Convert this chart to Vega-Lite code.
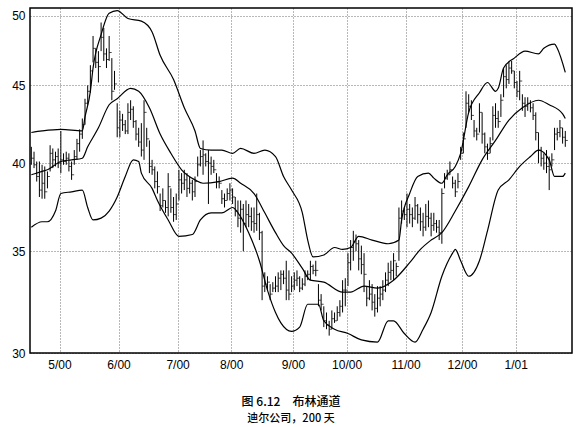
{
  "$schema": "https://vega.github.io/schema/vega-lite/v6.json",
  "description": "Bollinger bands, Deere & Co, 200 days",
  "autosize": "none",
  "width": 542,
  "height": 345,
  "padding": {"left": 30, "top": 8, "right": 14, "bottom": 74},
  "background": "white",
  "config": {
    "view": {"stroke": "black", "strokeWidth": 1.5},
    "axis": {
      "labelFont": "Liberation Sans",
      "labelFontSize": 12,
      "labelColor": "black",
      "ticks": false,
      "domain": false,
      "grid": true,
      "gridColor": "black",
      "gridDash": [1, 2],
      "gridOpacity": 0.7,
      "gridWidth": 0.8,
      "title": null
    }
  },
  "title": {
    "text": "图 6.12　布林通道",
    "subtitle": "迪尔公司，200 天",
    "orient": "bottom",
    "anchor": "middle",
    "dx": -10,
    "offset": 27,
    "font": "Noto Sans CJK SC",
    "fontSize": 12,
    "fontWeight": 500,
    "color": "black",
    "subtitleFont": "Noto Sans CJK SC",
    "subtitleFontSize": 11,
    "subtitleFontWeight": 500,
    "subtitleColor": "black",
    "subtitlePadding": 4
  },
  "datasets": {
    "bars": [
      {"d":0,"h":41.0,"l":39.9,"c":40.3},{"d":1,"h":40.7,"l":39.7,"c":39.9},{"d":2,"h":40.1,"l":38.9,"c":39.2},{"d":3,"h":40.1,"l":38.0,"c":38.4},
      {"d":4,"h":39.9,"l":37.9,"c":38.8},{"d":5,"h":39.8,"l":37.9,"c":38.3},{"d":6,"h":39.5,"l":38.5,"c":39.2},{"d":7,"h":41.1,"l":39.5,"c":40.6},
      {"d":8,"h":40.9,"l":39.7,"c":40.2},{"d":9,"h":40.7,"l":39.8,"c":40.4},{"d":10,"h":40.9,"l":39.7,"c":40.0},{"d":11,"h":42.0,"l":39.4,"c":40.2},
      {"d":12,"h":40.6,"l":39.9,"c":40.1},{"d":13,"h":40.7,"l":39.9,"c":40.3},{"d":14,"h":40.6,"l":39.5,"c":39.8},{"d":15,"h":40.1,"l":39.0,"c":39.3},
      {"d":16,"h":40.8,"l":39.9,"c":40.4},{"d":17,"h":41.5,"l":40.2,"c":41.2},{"d":18,"h":42.1,"l":40.7,"c":41.8},{"d":19,"h":42.8,"l":41.5,"c":42.4},
      {"d":20,"h":44.1,"l":42.4,"c":43.8},{"d":21,"h":45.0,"l":43.7,"c":44.6},{"d":22,"h":46.4,"l":44.5,"c":46.0},{"d":23,"h":48.5,"l":46.6,"c":47.6},
      {"d":24,"h":47.6,"l":46.2,"c":46.6},{"d":25,"h":47.4,"l":45.2,"c":46.3},{"d":26,"h":49.5,"l":47.4,"c":48.4},{"d":27,"h":49.1,"l":46.7,"c":47.2},
      {"d":28,"h":47.6,"l":46.2,"c":46.8},{"d":29,"h":48.5,"l":46.7,"c":47.3},{"d":30,"h":46.9,"l":44.0,"c":44.6},{"d":31,"h":46.0,"l":44.7,"c":45.1},
      {"d":32,"h":43.8,"l":41.6,"c":42.2},{"d":33,"h":43.3,"l":41.6,"c":42.7},{"d":34,"h":43.1,"l":42.0,"c":42.4},{"d":35,"h":42.7,"l":41.8,"c":42.0},
      {"d":36,"h":43.8,"l":41.8,"c":43.2},{"d":37,"h":44.0,"l":42.7,"c":43.4},{"d":38,"h":43.6,"l":42.2,"c":42.6},{"d":39,"h":42.7,"l":41.4,"c":41.8},
      {"d":40,"h":42.2,"l":41.0,"c":41.3},{"d":41,"h":42.5,"l":40.4,"c":40.8},{"d":42,"h":44.0,"l":40.2,"c":43.2},{"d":43,"h":42.2,"l":41.0,"c":41.5},
      {"d":44,"h":41.4,"l":39.4,"c":39.8},{"d":45,"h":40.2,"l":39.3,"c":39.6},{"d":46,"h":39.8,"l":38.5,"c":38.9},{"d":47,"h":39.5,"l":38.2,"c":38.6},
      {"d":48,"h":38.2,"l":37.2,"c":37.5},{"d":49,"h":38.5,"l":37.4,"c":37.8},{"d":50,"h":37.8,"l":37.1,"c":37.4},{"d":51,"h":39.4,"l":36.9,"c":38.6},
      {"d":52,"h":38.5,"l":37.1,"c":37.4},{"d":53,"h":38.0,"l":36.6,"c":37.0},{"d":54,"h":38.2,"l":36.7,"c":37.6},{"d":55,"h":39.6,"l":37.8,"c":39.0},
      {"d":56,"h":39.4,"l":38.2,"c":38.8},{"d":57,"h":39.6,"l":38.4,"c":39.0},{"d":58,"h":39.4,"l":38.0,"c":38.5},{"d":59,"h":39.2,"l":38.2,"c":38.8},
      {"d":60,"h":39.0,"l":37.8,"c":38.3},{"d":61,"h":39.2,"l":38.0,"c":38.9},{"d":62,"h":40.4,"l":39.2,"c":39.9},{"d":63,"h":40.8,"l":39.8,"c":40.4},
      {"d":64,"h":41.4,"l":39.3,"c":40.5},{"d":65,"h":40.6,"l":39.8,"c":40.1},{"d":66,"h":40.8,"l":37.6,"c":40.0},{"d":67,"h":40.4,"l":39.3,"c":39.8},
      {"d":68,"h":40.2,"l":39.4,"c":39.6},{"d":69,"h":39.4,"l":38.5,"c":38.9},{"d":70,"h":39.2,"l":38.5,"c":38.8},{"d":71,"h":38.4,"l":37.6,"c":37.9},
      {"d":72,"h":38.2,"l":37.4,"c":37.8},{"d":73,"h":38.5,"l":37.8,"c":38.2},{"d":74,"h":38.8,"l":37.8,"c":38.4},{"d":75,"h":38.5,"l":37.6,"c":38.0},
      {"d":76,"h":38.0,"l":36.9,"c":37.2},{"d":77,"h":37.8,"l":36.3,"c":36.8},{"d":78,"h":37.8,"l":36.0,"c":37.3},{"d":79,"h":37.6,"l":35.0,"c":36.5},
      {"d":80,"h":37.8,"l":36.3,"c":37.0},{"d":81,"h":37.6,"l":36.3,"c":36.9},{"d":82,"h":37.4,"l":36.1,"c":36.6},{"d":83,"h":37.4,"l":36.0,"c":36.5},
      {"d":84,"h":38.2,"l":36.1,"c":37.0},{"d":85,"h":37.1,"l":35.6,"c":36.0},{"d":86,"h":36.1,"l":32.5,"c":33.2},{"d":87,"h":33.9,"l":32.9,"c":33.3},
      {"d":88,"h":33.7,"l":33.0,"c":33.4},{"d":89,"h":33.3,"l":32.5,"c":32.8},{"d":90,"h":33.4,"l":32.9,"c":33.1},{"d":91,"h":33.7,"l":32.9,"c":33.2},
      {"d":92,"h":33.9,"l":32.9,"c":33.6},{"d":93,"h":34.0,"l":33.0,"c":33.8},{"d":94,"h":34.0,"l":33.3,"c":33.6},{"d":95,"h":34.5,"l":32.5,"c":33.0},
      {"d":96,"h":34.0,"l":32.5,"c":32.8},{"d":97,"h":33.7,"l":32.9,"c":33.2},{"d":98,"h":33.9,"l":33.0,"c":33.5},{"d":99,"h":34.0,"l":33.2,"c":33.6},
      {"d":100,"h":33.7,"l":32.9,"c":33.1},{"d":101,"h":33.6,"l":33.0,"c":33.3},{"d":102,"h":34.0,"l":33.2,"c":33.7},{"d":103,"h":34.0,"l":33.5,"c":33.8},
      {"d":104,"h":34.5,"l":33.5,"c":34.2},{"d":105,"h":34.3,"l":33.8,"c":34.0},{"d":106,"h":34.5,"l":33.7,"c":34.0},{"d":107,"h":33.3,"l":32.2,"c":32.5},
      {"d":108,"h":32.8,"l":32.0,"c":32.3},{"d":109,"h":32.2,"l":31.2,"c":31.5},{"d":110,"h":31.9,"l":31.1,"c":31.3},{"d":111,"h":31.5,"l":30.8,"c":31.1},
      {"d":112,"h":32.0,"l":31.1,"c":31.6},{"d":113,"h":31.9,"l":31.4,"c":31.5},{"d":114,"h":32.2,"l":31.5,"c":31.9},{"d":115,"h":32.5,"l":31.7,"c":32.2},
      {"d":116,"h":33.5,"l":31.9,"c":33.0},{"d":117,"h":33.6,"l":32.2,"c":33.0},{"d":118,"h":34.9,"l":33.2,"c":34.4},{"d":119,"h":35.6,"l":34.0,"c":35.2},
      {"d":120,"h":36.1,"l":34.5,"c":35.5},{"d":121,"h":35.9,"l":35.0,"c":35.4},{"d":122,"h":35.6,"l":34.0,"c":34.6},{"d":123,"h":35.3,"l":33.8,"c":34.3},
      {"d":124,"h":34.9,"l":32.9,"c":33.8},{"d":125,"h":33.2,"l":32.2,"c":32.6},{"d":126,"h":33.5,"l":32.5,"c":32.8},{"d":127,"h":33.3,"l":32.0,"c":32.4},
      {"d":128,"h":32.8,"l":31.7,"c":32.1},{"d":129,"h":33.2,"l":31.9,"c":32.6},{"d":130,"h":33.2,"l":32.2,"c":32.8},{"d":131,"h":33.5,"l":32.5,"c":33.0},
      {"d":132,"h":33.9,"l":32.9,"c":33.5},{"d":133,"h":34.4,"l":33.2,"c":33.9},{"d":134,"h":34.5,"l":33.5,"c":34.0},{"d":135,"h":34.9,"l":33.5,"c":34.5},
      {"d":136,"h":34.4,"l":33.7,"c":34.2},{"d":137,"h":37.4,"l":34.5,"c":36.8},{"d":138,"h":37.8,"l":36.5,"c":37.2},{"d":139,"h":37.4,"l":36.7,"c":37.0},
      {"d":140,"h":38.2,"l":36.3,"c":37.3},{"d":141,"h":37.6,"l":36.5,"c":37.0},{"d":142,"h":37.4,"l":36.3,"c":36.8},{"d":143,"h":38.0,"l":36.7,"c":37.5},
      {"d":144,"h":37.6,"l":36.5,"c":37.0},{"d":145,"h":37.4,"l":36.1,"c":36.6},{"d":146,"h":37.1,"l":35.8,"c":36.3},{"d":147,"h":37.6,"l":36.1,"c":36.9},
      {"d":148,"h":37.8,"l":36.3,"c":36.8},{"d":149,"h":37.1,"l":35.8,"c":36.4},{"d":150,"h":37.1,"l":36.1,"c":36.5},{"d":151,"h":36.7,"l":36.0,"c":36.3},
      {"d":152,"h":36.7,"l":35.6,"c":36.0},{"d":153,"h":38.5,"l":35.4,"c":38.2},{"d":154,"h":39.4,"l":38.5,"c":39.1},{"d":155,"h":39.6,"l":39.0,"c":39.3},
      {"d":156,"h":40.1,"l":39.3,"c":39.6},{"d":157,"h":39.2,"l":38.5,"c":38.8},{"d":158,"h":39.0,"l":38.0,"c":38.3},{"d":159,"h":39.4,"l":38.5,"c":38.9},
      {"d":160,"h":41.0,"l":40.2,"c":40.6},{"d":161,"h":41.9,"l":40.6,"c":41.5},{"d":162,"h":44.6,"l":42.2,"c":43.8},{"d":163,"h":44.4,"l":43.2,"c":43.6},
      {"d":164,"h":44.0,"l":42.7,"c":43.0},{"d":165,"h":42.7,"l":41.6,"c":42.0},{"d":166,"h":42.2,"l":41.4,"c":41.8},{"d":167,"h":43.8,"l":41.9,"c":43.2},
      {"d":168,"h":43.2,"l":41.2,"c":41.8},{"d":169,"h":41.9,"l":40.6,"c":41.0},{"d":170,"h":41.2,"l":40.2,"c":40.6},{"d":171,"h":41.6,"l":40.6,"c":41.2},
      {"d":172,"h":43.6,"l":41.4,"c":43.0},{"d":173,"h":43.8,"l":42.2,"c":42.8},{"d":174,"h":43.3,"l":42.2,"c":42.6},{"d":175,"h":44.4,"l":42.9,"c":44.0},
      {"d":176,"h":46.2,"l":44.2,"c":45.6},{"d":177,"h":46.4,"l":44.8,"c":45.4},{"d":178,"h":46.7,"l":45.1,"c":46.2},{"d":179,"h":46.7,"l":45.8,"c":46.0},
      {"d":180,"h":46.0,"l":44.8,"c":45.2},{"d":181,"h":45.3,"l":44.2,"c":44.6},{"d":182,"h":46.0,"l":44.0,"c":45.3},{"d":183,"h":44.4,"l":43.3,"c":43.8},
      {"d":184,"h":44.2,"l":42.9,"c":43.6},{"d":185,"h":44.2,"l":43.3,"c":43.8},{"d":186,"h":44.0,"l":43.2,"c":43.5},{"d":187,"h":43.8,"l":42.7,"c":43.0},
      {"d":188,"h":43.2,"l":41.4,"c":41.9},{"d":189,"h":41.9,"l":40.0,"c":40.8},{"d":190,"h":41.0,"l":39.8,"c":40.3},{"d":191,"h":40.6,"l":39.6,"c":40.0},
      {"d":192,"h":40.8,"l":39.4,"c":39.8},{"d":193,"h":40.4,"l":38.4,"c":39.6},{"d":194,"h":40.6,"l":39.8,"c":40.2},{"d":195,"h":42.2,"l":40.8,"c":41.8},
      {"d":196,"h":42.2,"l":41.4,"c":41.9},{"d":197,"h":42.7,"l":41.6,"c":42.2},{"d":198,"h":42.2,"l":41.2,"c":41.6},{"d":199,"h":42.0,"l":41.0,"c":41.4}
    ],
    "bands": [
      {"b":"upper","d":0,"v":41.9},{"b":"upper","d":4,"v":42.0},{"b":"upper","d":11,"v":42.1},{"b":"upper","d":19,"v":42.0},{"b":"upper","d":20,"v":42.9},
      {"b":"upper","d":22,"v":44.6},{"b":"upper","d":23,"v":46.2},{"b":"upper","d":26,"v":48.6},{"b":"upper","d":29,"v":50.2},{"b":"upper","d":32,"v":50.4},
      {"b":"upper","d":36,"v":49.8},{"b":"upper","d":41,"v":49.6},{"b":"upper","d":45,"v":48.8},{"b":"upper","d":48,"v":47.1},{"b":"upper","d":53,"v":45.4},
      {"b":"upper","d":57,"v":43.5},{"b":"upper","d":61,"v":42.0},{"b":"upper","d":63,"v":40.9},{"b":"upper","d":67,"v":40.8},{"b":"upper","d":71,"v":40.8},
      {"b":"upper","d":75,"v":40.6},{"b":"upper","d":78,"v":40.9},{"b":"upper","d":83,"v":40.6},{"b":"upper","d":87,"v":40.8},{"b":"upper","d":91,"v":40.4},
      {"b":"upper","d":94,"v":39.2},{"b":"upper","d":97,"v":38.4},{"b":"upper","d":101,"v":37.1},{"b":"upper","d":103,"v":35.6},{"b":"upper","d":105,"v":34.7},
      {"b":"upper","d":109,"v":34.8},{"b":"upper","d":113,"v":35.2},{"b":"upper","d":116,"v":35.1},{"b":"upper","d":119,"v":35.2},{"b":"upper","d":122,"v":35.8},
      {"b":"upper","d":127,"v":35.6},{"b":"upper","d":133,"v":35.4},{"b":"upper","d":137,"v":35.6},{"b":"upper","d":138,"v":36.7},{"b":"upper","d":141,"v":38.2},
      {"b":"upper","d":144,"v":39.2},{"b":"upper","d":148,"v":39.4},{"b":"upper","d":150,"v":39.1},{"b":"upper","d":153,"v":38.8},{"b":"upper","d":155,"v":39.3},
      {"b":"upper","d":158,"v":39.8},{"b":"upper","d":160,"v":40.6},{"b":"upper","d":163,"v":43.2},{"b":"upper","d":167,"v":44.5},{"b":"upper","d":170,"v":45.2},
      {"b":"upper","d":173,"v":44.6},{"b":"upper","d":174,"v":44.8},{"b":"upper","d":176,"v":46.2},{"b":"upper","d":180,"v":46.9},{"b":"upper","d":184,"v":47.4},
      {"b":"upper","d":189,"v":47.2},{"b":"upper","d":191,"v":47.6},{"b":"upper","d":195,"v":47.9},{"b":"upper","d":196,"v":47.6},{"b":"upper","d":199,"v":45.9},
      {"b":"mid","d":0,"v":39.3},{"b":"mid","d":4,"v":39.5},{"b":"mid","d":6,"v":39.6},{"b":"mid","d":11,"v":40.1},{"b":"mid","d":15,"v":40.2},
      {"b":"mid","d":19,"v":40.3},{"b":"mid","d":21,"v":41.0},{"b":"mid","d":25,"v":42.2},{"b":"mid","d":29,"v":43.7},{"b":"mid","d":32,"v":44.1},
      {"b":"mid","d":37,"v":44.8},{"b":"mid","d":40,"v":44.6},{"b":"mid","d":44,"v":43.5},{"b":"mid","d":48,"v":41.8},{"b":"mid","d":52,"v":40.6},
      {"b":"mid","d":56,"v":39.6},{"b":"mid","d":61,"v":39.0},{"b":"mid","d":64,"v":38.8},{"b":"mid","d":70,"v":38.9},{"b":"mid","d":75,"v":39.1},
      {"b":"mid","d":78,"v":38.8},{"b":"mid","d":83,"v":38.2},{"b":"mid","d":87,"v":37.1},{"b":"mid","d":91,"v":36.0},{"b":"mid","d":94,"v":35.3},
      {"b":"mid","d":97,"v":34.9},{"b":"mid","d":101,"v":34.1},{"b":"mid","d":104,"v":33.5},{"b":"mid","d":109,"v":33.4},{"b":"mid","d":116,"v":32.9},
      {"b":"mid","d":119,"v":32.9},{"b":"mid","d":124,"v":33.2},{"b":"mid","d":129,"v":33.1},{"b":"mid","d":135,"v":33.5},{"b":"mid","d":141,"v":34.4},
      {"b":"mid","d":145,"v":35.1},{"b":"mid","d":149,"v":35.6},{"b":"mid","d":153,"v":36.0},{"b":"mid","d":158,"v":37.2},{"b":"mid","d":163,"v":38.6},
      {"b":"mid","d":168,"v":40.2},{"b":"mid","d":173,"v":41.4},{"b":"mid","d":178,"v":42.7},{"b":"mid","d":183,"v":43.5},{"b":"mid","d":189,"v":44.0},
      {"b":"mid","d":193,"v":43.7},{"b":"mid","d":198,"v":43.1},{"b":"mid","d":199,"v":42.8},
      {"b":"lower","d":0,"v":36.3},{"b":"lower","d":4,"v":36.6},{"b":"lower","d":6,"v":36.6},{"b":"lower","d":9,"v":37.2},{"b":"lower","d":11,"v":38.2},
      {"b":"lower","d":15,"v":38.3},{"b":"lower","d":19,"v":38.4},{"b":"lower","d":21,"v":37.4},{"b":"lower","d":23,"v":36.7},{"b":"lower","d":26,"v":36.8},
      {"b":"lower","d":29,"v":37.2},{"b":"lower","d":32,"v":38.0},{"b":"lower","d":35,"v":39.2},{"b":"lower","d":38,"v":40.2},{"b":"lower","d":40,"v":40.1},
      {"b":"lower","d":41,"v":39.4},{"b":"lower","d":45,"v":38.5},{"b":"lower","d":47,"v":37.8},{"b":"lower","d":51,"v":36.7},{"b":"lower","d":55,"v":35.8},
      {"b":"lower","d":60,"v":35.9},{"b":"lower","d":63,"v":36.7},{"b":"lower","d":67,"v":37.1},{"b":"lower","d":71,"v":37.1},{"b":"lower","d":75,"v":37.4},
      {"b":"lower","d":77,"v":37.1},{"b":"lower","d":81,"v":36.0},{"b":"lower","d":85,"v":34.5},{"b":"lower","d":88,"v":33.0},{"b":"lower","d":91,"v":31.9},
      {"b":"lower","d":93,"v":31.4},{"b":"lower","d":97,"v":31.0},{"b":"lower","d":100,"v":31.2},{"b":"lower","d":103,"v":32.3},{"b":"lower","d":107,"v":32.3},
      {"b":"lower","d":109,"v":31.5},{"b":"lower","d":113,"v":31.1},{"b":"lower","d":118,"v":30.9},{"b":"lower","d":123,"v":30.6},{"b":"lower","d":129,"v":30.5},
      {"b":"lower","d":133,"v":31.5},{"b":"lower","d":135,"v":31.5},{"b":"lower","d":139,"v":30.9},{"b":"lower","d":143,"v":30.5},{"b":"lower","d":146,"v":31.1},
      {"b":"lower","d":149,"v":31.9},{"b":"lower","d":153,"v":33.7},{"b":"lower","d":157,"v":34.9},{"b":"lower","d":158,"v":35.1},{"b":"lower","d":160,"v":34.5},
      {"b":"lower","d":163,"v":33.7},{"b":"lower","d":167,"v":34.5},{"b":"lower","d":170,"v":36.1},{"b":"lower","d":174,"v":38.4},{"b":"lower","d":178,"v":39.0},
      {"b":"lower","d":182,"v":39.8},{"b":"lower","d":186,"v":40.4},{"b":"lower","d":189,"v":40.8},{"b":"lower","d":193,"v":40.2},{"b":"lower","d":195,"v":39.2},
      {"b":"lower","d":198,"v":39.2},{"b":"lower","d":199,"v":39.4}
    ]
  },
  "encoding": {
    "x": {
      "field": "d",
      "type": "quantitative",
      "scale": {"domain": [-0.5, 201.5], "nice": false, "zero": false},
      "axis": {
        "values": [10.5, 32.5, 54.5, 74.5, 97.5, 117.5, 139.5, 160.5, 180.5],
        "labelPadding": 6,
        "labelExpr": "datum.value < 20 ? '5/00' : datum.value < 40 ? '6/00' : datum.value < 60 ? '7/00' : datum.value < 80 ? '8/00' : datum.value < 100 ? '9/00' : datum.value < 120 ? '10/00' : datum.value < 150 ? '11/00' : datum.value < 170 ? '12/00' : '1/01'"
      }
    }
  },
  "layer": [
    {
      "data": {"name": "bars"},
      "mark": {"type": "rule", "color": "black", "strokeWidth": 1},
      "encoding": {
        "y": {
          "field": "l",
          "type": "quantitative",
          "scale": {"type": "log", "domain": [30, 50.6], "nice": false, "zero": false},
          "axis": {"values": [30, 35, 40, 45, 50], "labelPadding": 5}
        },
        "y2": {"field": "h"}
      }
    },
    {
      "data": {"name": "bars"},
      "mark": {"type": "tick", "orient": "horizontal", "color": "black", "size": 2.5, "thickness": 1, "xOffset": 1.3},
      "encoding": {
        "y": {"field": "c", "type": "quantitative"}
      }
    },
    {
      "data": {"name": "bands"},
      "mark": {"type": "line", "color": "black", "strokeWidth": 1.2, "interpolate": "monotone"},
      "encoding": {
        "y": {"field": "v", "type": "quantitative"},
        "detail": {"field": "b"}
      }
    }
  ]
}
